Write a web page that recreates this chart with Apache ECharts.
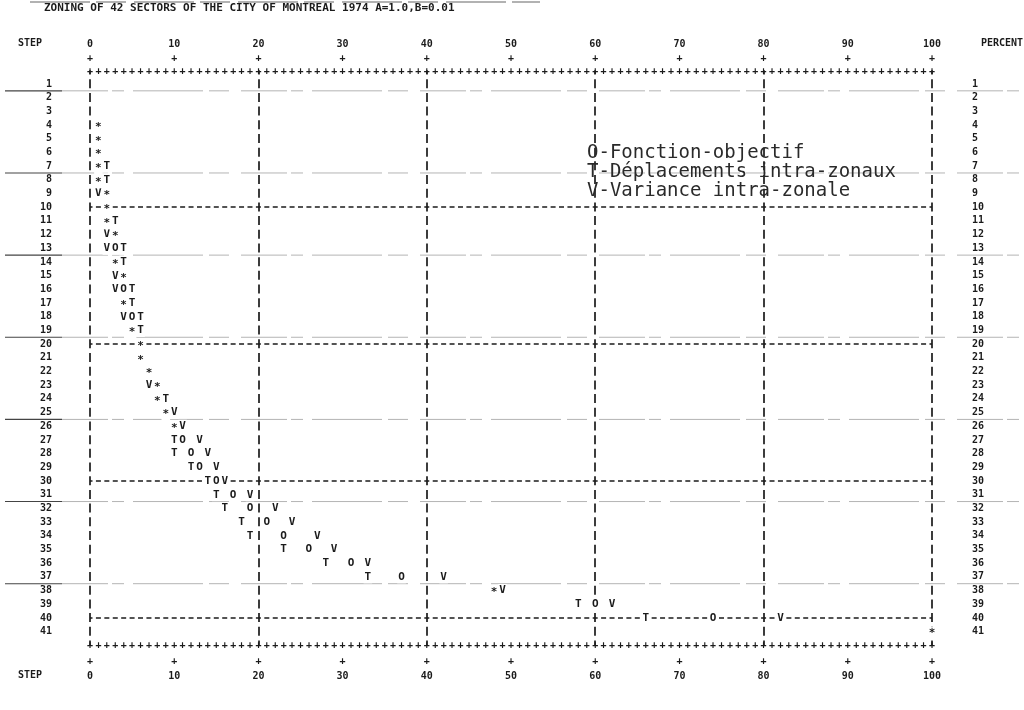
<!DOCTYPE html>
<html><head><meta charset="utf-8">
<script src="https://cdn.jsdelivr.net/npm/echarts@6/dist/echarts.min.js"></script>
<style>html,body{margin:0;padding:0;background:#fff}#c{width:1024px;height:710px}</style>
</head><body><div id="c"></div>
<script>
// ---------- data ----------
const titleText = 'ZONING OF 42 SECTORS OF THE CITY OF MONTREAL 1974 A=1.0,B=0.01';
const steps = [1,2,3,4,5,6,7,8,9,10,11,12,13,14,15,16,17,18,19,20,21,22,23,24,25,26,27,28,29,30,31,32,33,34,35,36,37,38,39,40,41];
const percentTicks = [0,10,20,30,40,50,60,70,80,90,100];
// O - Fonction-objectif
const objectif     = [null,null,null,1,1,1,1,1,2,2,2,3,3,3,4,4,4,5,5,6,6,7,8,8,9,10,11,12,13,15,17,19,21,23,26,31,37,48,60,74,100];
// T - Deplacements intra-zonaux
const deplacements = [null,null,null,1,1,1,2,2,2,2,3,3,4,4,4,5,5,6,6,6,6,7,8,9,9,10,10,10,12,14,15,16,18,19,23,28,33,48,58,66,100];
// V - Variance intra-zonale
const variance     = [null,null,null,1,1,1,1,1,1,2,2,2,2,3,3,3,4,4,5,6,6,7,7,8,10,11,13,14,15,16,19,22,24,27,29,33,42,49,62,82,100];
const seriesNames = ['O-Fonction-objectif', 'T-D\u00e9placements intra-zonaux', 'V-Variance intra-zonale'];
const seriesChars = ['O', 'T', 'V'];

// ---------- build marks (coinciding points print as '*') ----------
const allSeries = [objectif, deplacements, variance];
const single = [[], [], []];
const stars = [];
steps.forEach((s, i) => {
  const vals = allSeries.map(a => a[i]);
  vals.forEach((v, j) => {
    if (v == null) return;
    const cnt = vals.filter(w => w === v).length;
    if (cnt > 1) { if (vals.indexOf(v) === j) stars.push([v, s]); }
    else single[j].push([v, s]);
  });
});

const MONO = '"DejaVu Sans Mono", "Liberation Mono", monospace';
const INK = '#1b1b1b';

function charRenderer(ch, dy) {
  return function (params, api) {
    const p = api.coord([api.value(0), api.value(1)]);
    return {
      type: 'text', x: p[0], y: p[1] + dy,
      style: { text: ch, font: 'bold 11px ' + MONO, fill: INK, align: 'center', verticalAlign: 'middle',
               backgroundColor: '#fff', padding: [1, 1] }
    };
  };
}

const chart = echarts.init(document.getElementById('c'), null, { renderer: 'canvas' });

function plusAxis(position, offset, interval) {
  return {
    type: 'value', gridIndex: 0, position, offset, min: 0, max: 100, interval,
    axisLine: { show: false, onZero: false }, axisTick: { show: false }, splitLine: { show: false },
    axisLabel: { show: true, formatter: () => '+', margin: 0, verticalAlign: 'middle', showMinLabel: true, showMaxLabel: true,
                 fontFamily: MONO, fontWeight: 'bold', fontSize: 10, color: INK }
  };
}
function numAxis(position, offset) {
  return {
    type: 'value', gridIndex: 0, position, offset, min: 0, max: 100, interval: 10,
    axisLine: { show: false, onZero: false }, axisTick: { show: false }, splitLine: { show: false },
    axisLabel: { show: true, margin: 0, verticalAlign: 'middle', showMinLabel: true, showMaxLabel: true,
                 formatter: v => percentTicks.indexOf(v) >= 0 ? String(v) : '',
                 fontFamily: MONO, fontWeight: 'bold', fontSize: 10, color: INK }
  };
}
function rowAxis(position) {
  return {
    type: 'value', gridIndex: 0, position, inverse: true, min: 0, max: steps.length + 1, interval: 1,
    axisLine: { show: false, onZero: false }, axisTick: { show: false }, splitLine: { show: false },
    axisLabel: { margin: position === 'left' ? 38 : 40, showMinLabel: true, showMaxLabel: true,
                 formatter: v => steps.indexOf(v) >= 0 ? String(v) : '',
                 align: position === 'left' ? 'right' : 'left',
                 fontFamily: MONO, fontWeight: 'bold', fontSize: 10, color: INK }
  };
}

const option = {
  backgroundColor: '#fff',
  animation: false,
  title: [
    { text: titleText, left: 44, top: 3, padding: 0, textStyle: { fontFamily: MONO, fontSize: 11, fontWeight: 'bold', color: INK } },
    { text: 'STEP', left: 18, top: 38, padding: 0, textStyle: { fontFamily: MONO, fontSize: 10, fontWeight: 'bold', color: INK } },
    { text: 'PERCENT', left: 981, top: 38, padding: 0, textStyle: { fontFamily: MONO, fontSize: 10, fontWeight: 'bold', color: INK } },
    { text: 'STEP', left: 18, top: 670, padding: 0, textStyle: { fontFamily: MONO, fontSize: 10, fontWeight: 'bold', color: INK } }
  ],
  legend: {
    data: seriesNames, icon: 'none', orient: 'vertical', left: 582, top: 144,
    itemWidth: 0, itemHeight: 0, itemGap: 0, padding: 0, selectedMode: false,
    textStyle: { fontFamily: MONO, fontSize: 19, color: '#2a2a2a', lineHeight: 18.5 }
  },
  grid: { left: 90, right: 92, top: 70.3, height: 575, containLabel: false, outerBoundsMode: 'none' },
  xAxis: [
    plusAxis('bottom', 0, 1),       // 0: dense '+' row bottom (data axis)
    plusAxis('top', -1, 1),         // 1: dense '+' row top
    plusAxis('bottom', 16, 10),     // 2: tick '+' bottom
    plusAxis('top', 12, 10),        // 3: tick '+' top
    numAxis('bottom', 31),          // 4: numbers bottom
    numAxis('top', 26),             // 5: numbers top
    {                               // 6: vertical 'I' grid columns
      type: 'value', gridIndex: 0, position: 'bottom', min: 0, max: 100, interval: 20,
      axisLine: { show: false, onZero: false }, axisTick: { show: false }, axisLabel: { show: false },
      splitLine: { show: true, showMinLine: true, showMaxLine: true,
                   lineStyle: { color: INK, width: 1.7, type: [9, 4.69], dashOffset: 4.79 } }
    }
  ],
  yAxis: [rowAxis('left'), rowAxis('right')],
  series: [
    ...seriesNames.map((name, j) => ({
      name, type: 'custom', xAxisIndex: 0, yAxisIndex: 0, z: 5,
      data: single[j], encode: { x: 0, y: 1 },
      renderItem: charRenderer(seriesChars[j], 0)
    })),
    {
      name: '*', type: 'custom', xAxisIndex: 0, yAxisIndex: 0, z: 6,
      data: stars, encode: { x: 0, y: 1 },
      renderItem: charRenderer('*', 2),
      markLine: {
        silent: true, symbol: 'none', z: 1, label: { show: false },
        lineStyle: { color: INK, width: 1.6, type: [5, 3.42], dashOffset: 2.5 },
        data: [10, 20, 30, 40].map(r => ({ yAxis: r }))
      }
    }
  ]
};
chart.setOption(option);

// faint fan-fold paper creases (scan artefacts), positioned through the row axis
const folds = [];
for (let r = 1.5; r < steps.length; r += 6) {
  const y = chart.convertToPixel({ yAxisIndex: 0 }, r);
  folds.push({ type: 'line', z: 0, silent: true, shape: { x1: 62, y1: y, x2: 1024, y2: y },
               style: { stroke: '#b4b4b4', lineWidth: 1, lineDash: [46, 4, 12, 9, 70, 6, 20, 12] } });
  folds.push({ type: 'line', z: 0, silent: true, shape: { x1: 5, y1: y, x2: 62, y2: y },
               style: { stroke: '#444', lineWidth: 1.1 } });
}
folds.push({ type: 'line', z: 0, silent: true, shape: { x1: 30, y1: 2, x2: 540, y2: 2 },
             style: { stroke: '#666', lineWidth: 1.2, lineDash: [60, 6, 30, 8] } });
chart.setOption({ graphic: folds });
</script>
</body></html>
